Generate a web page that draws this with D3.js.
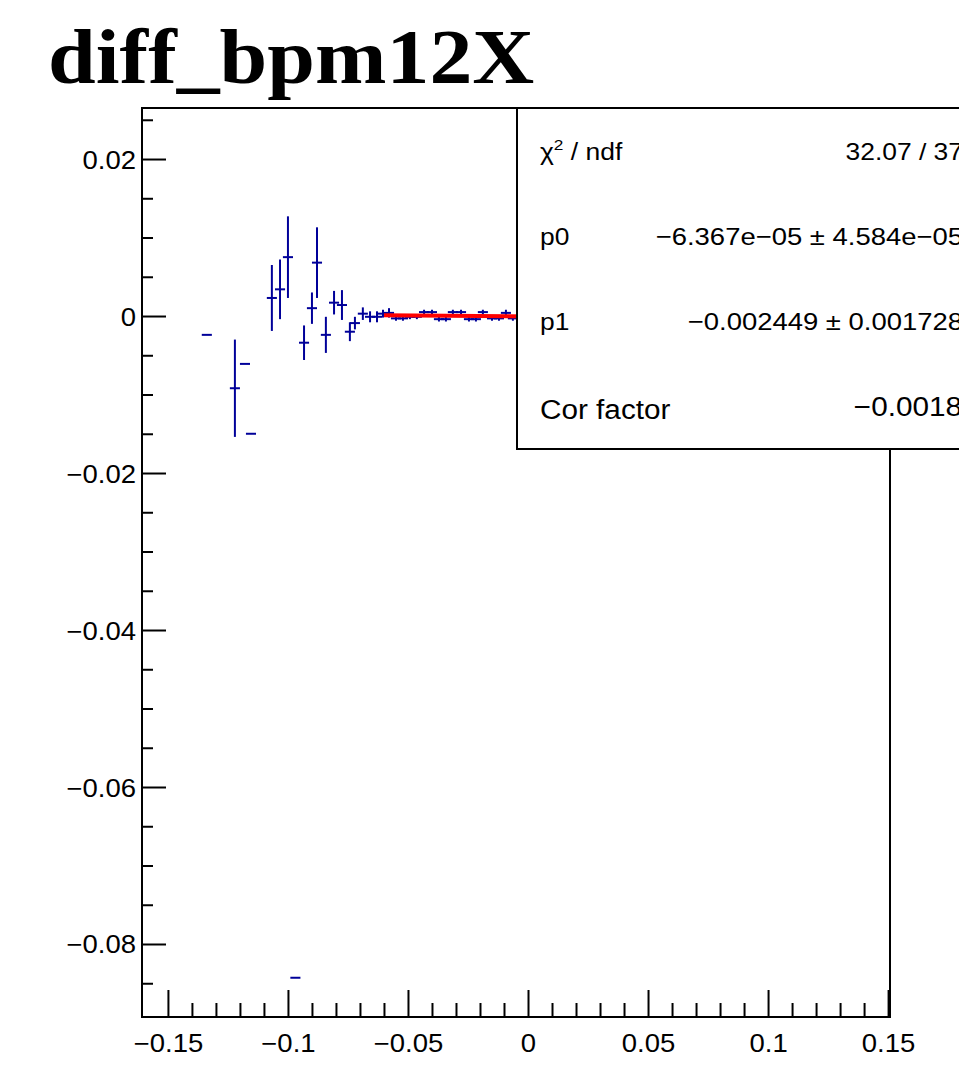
<!DOCTYPE html>
<meta charset="utf-8">
<style>
  body { margin: 0; background: #fff; }
  text { font-family: "Liberation Sans", Arial, sans-serif; fill: #000; }
</style>
<svg width="959" height="1075"></svg>
<script src="https://cdn.jsdelivr.net/npm/d3@7"></script>
<script>

// profile points (x, mean, error on mean)
var xVals = [-0.1338, -0.1221, -0.1179, -0.1154, -0.1067, -0.1033, -0.1000, -0.0969, -0.0933, -0.0900,
             -0.0879, -0.0842, -0.0808, -0.0775, -0.0742, -0.0721, -0.0688, -0.0658, -0.0629, -0.0604,
             -0.0579, -0.0550, -0.0521, -0.0492, -0.0463, -0.0433, -0.0400, -0.0371, -0.0342, -0.0313,
             -0.0279, -0.0246, -0.0217, -0.0188, -0.0150, -0.0121, -0.0092, -0.0063];
var yVals = [-0.0024, -0.0092, -0.0061, -0.0150, 0.0023, 0.0034, 0.0075, -0.0843, -0.0034, 0.0010,
             0.0068, -0.0024, 0.0017, 0.0014, -0.0020, -0.0009, 0.0003, -0.0001, -0.0001, 0.0003,
             0.0004, -0.0003, -0.0003, -0.0001, -0.0001, 0.0005, 0.0005, -0.0004, -0.0004, 0.0005,
             0.0005, -0.0004, -0.0004, 0.0005, -0.0003, -0.0003, 0.0004, -0.0003];
var yErrs = [0, 0.0062, 0, 0, 0.0042, 0.0038, 0.0052, 0, 0.0022, 0.0020,
             0.0045, 0.0023, 0.0015, 0.0019, 0.0012, 0.0008, 0.0008, 0.0007, 0.0007, 0.0005,
             0.0006, 0.0003, 0.0003, 0.0003, 0.0003, 0.0003, 0.0003, 0.0003, 0.0003, 0.0003,
             0.0003, 0.0003, 0.0003, 0.0003, 0.0003, 0.0003, 0.0004, 0.0003];
var binHalfWidth = 0.0021;

// linear fit
var fitP0 = -6.367e-05, fitP1 = -0.002449;
var fitRange = [-0.06, 0.06];

var xDomain = [-0.1608, 0.1508],
    yDomain = [-0.0893, 0.0265];
var xMajor = [-0.15, -0.1, -0.05, 0, 0.05, 0.1, 0.15],
    xTickLabels = ["\u22120.15", "\u22120.1", "\u22120.05", "0", "0.05", "0.1", "0.15"],
    xMinor = [-0.14, -0.13, -0.12, -0.11, -0.09, -0.08, -0.07, -0.06, -0.04, -0.03, -0.02, -0.01,
              0.01, 0.02, 0.03, 0.04, 0.06, 0.07, 0.08, 0.09, 0.11, 0.12, 0.13, 0.14];
var yMajor = [-0.08, -0.06, -0.04, -0.02, 0, 0.02],
    yTickLabels = ["\u22120.08", "\u22120.06", "\u22120.04", "\u22120.02", "0", "0.02"],
    yMinor = [-0.085, -0.075, -0.07, -0.065, -0.055, -0.05, -0.045, -0.035, -0.03, -0.025,
              -0.015, -0.01, -0.005, 0.005, 0.01, 0.015, 0.025];

var statNames = ["p0", "p1"],
    statValues = ["\u22126.367e\u221205 \u00b1 4.584e\u221205", "\u22120.002449 \u00b1 0.001728"];
var chiText = "32.07 / 37",
    corText = "\u22120.0018";

var svg = d3.select("svg"),
    frameL = 142, frameR = 890, frameT = 108, frameB = 1017;

var x = d3.scaleLinear().domain(xDomain).range([frameL, frameR]);
var y = d3.scaleLinear().domain(yDomain).range([frameB, frameT]);

// the reference text is a little wider than the fonts here
function stretch(sel, k) {
  sel.each(function() {
    var len = this.getComputedTextLength();
    d3.select(this).attr("textLength", len * k).attr("lengthAdjust", "spacingAndGlyphs");
  });
}

svg.append("text")
    .attr("x", 48).attr("y", 83)
    .style("font-family", "'Liberation Serif', 'Times New Roman', serif")
    .style("font-weight", "bold")
    .style("font-size", "78px")
    .text("diff_bpm12X")
    .call(stretch, 1.1);

// axes
var gx = svg.append("g").attr("transform", "translate(0," + frameB + ")")
    .call(d3.axisBottom(x).tickValues(xMajor).tickSize(-27).tickPadding(12)
      .tickFormat(function(d, i) { return xTickLabels[i]; }));
var gxm = svg.append("g").attr("transform", "translate(0," + frameB + ")")
    .call(d3.axisBottom(x).tickValues(xMinor).tickSize(-14).tickFormat(""));
var gy = svg.append("g").attr("transform", "translate(" + frameL + ",0)")
    .call(d3.axisLeft(y).tickValues(yMajor).tickSize(-24).tickPadding(6)
      .tickFormat(function(d, i) { return yTickLabels[i]; }));
var gym = svg.append("g").attr("transform", "translate(" + frameL + ",0)")
    .call(d3.axisLeft(y).tickValues(yMinor).tickSize(-11).tickFormat(""));

[gx, gxm, gy, gym].forEach(function(g) {
  g.select(".domain").remove();
  g.selectAll("line").attr("stroke", "#000").attr("stroke-width", 2);
  g.selectAll("text").style("font-size", "25px").attr("fill", "#000");
});
gx.selectAll("text").attr("dy", "0.9em").call(stretch, 1.1);
gy.selectAll("text").attr("dy", "0.36em").call(stretch, 1.1);

svg.append("rect")
    .attr("x", frameL).attr("y", frameT)
    .attr("width", frameR - frameL).attr("height", frameB - frameT)
    .attr("fill", "none").attr("stroke", "#000").attr("stroke-width", 2);

// error bars
var pts = svg.append("g").attr("stroke", "#000099").attr("stroke-width", 2);
xVals.forEach(function(xv, i) {
  pts.append("line")
      .attr("x1", x(xv - binHalfWidth)).attr("x2", x(xv + binHalfWidth))
      .attr("y1", y(yVals[i])).attr("y2", y(yVals[i]));
  if (yErrs[i] > 0) {
    pts.append("line")
        .attr("x1", x(xv)).attr("x2", x(xv))
        .attr("y1", y(yVals[i] - yErrs[i])).attr("y2", y(yVals[i] + yErrs[i]));
  }
});

var fitLine = d3.line()
    .x(function(d) { return x(d); })
    .y(function(d) { return y(fitP0 + fitP1 * d); });
svg.append("path")
    .attr("d", fitLine(fitRange))
    .attr("fill", "none").attr("stroke", "#ff0000").attr("stroke-width", 4);

// stats box
var box = svg.append("g");
box.append("rect")
    .attr("x", 517).attr("y", frameT).attr("width", 500).attr("height", 341)
    .attr("fill", "#fff").attr("stroke", "#000").attr("stroke-width", 2);

var chi = box.append("text").attr("x", 540).attr("y", 160).style("font-size", "23px");
chi.append("tspan").text("\u03c7");
chi.append("tspan").attr("dy", -10).style("font-size", "15px").text("2");
chi.append("tspan").attr("dy", 10).text(" / ndf");
chi.call(stretch, 1.15);

box.append("text").attr("x", 963).attr("y", 160).attr("text-anchor", "end")
    .style("font-size", "24px").text(chiText).call(stretch, 1.1);

statNames.forEach(function(n, i) {
  var yy = 245 + i * 85;
  box.append("text").attr("x", 540).attr("y", yy).style("font-size", "24px")
      .text(n).call(stretch, 1.1);
  box.append("text").attr("x", 963).attr("y", yy).attr("text-anchor", "end")
      .style("font-size", "24.5px").text(statValues[i]).call(stretch, 1.12);
});

box.append("text").attr("x", 540).attr("y", 419).style("font-size", "27px")
    .text("Cor factor").call(stretch, 1.1);
box.append("text").attr("x", 962).attr("y", 416).attr("text-anchor", "end")
    .style("font-size", "27px").text(corText).call(stretch, 1.1);

</script>
